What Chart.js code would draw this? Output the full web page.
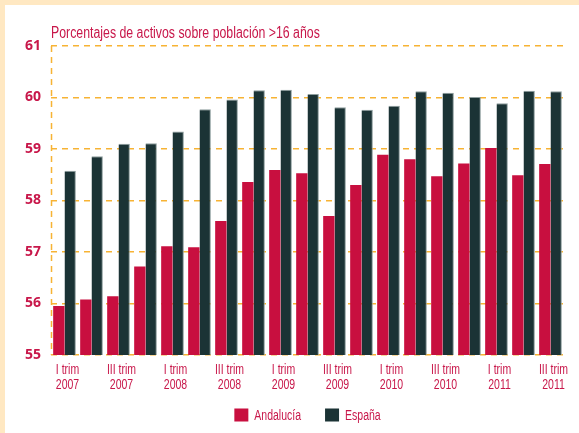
<!DOCTYPE html>
<html>
<head>
<meta charset="utf-8">
<script src="https://cdn.jsdelivr.net/npm/chart.js@4"></script>
<style>
  html, body { margin: 0; padding: 0; background: #FFE8C2; }
  #wrap { position: absolute; left: 5px; top: 5px; width: 574px; height: 428px; background: #fff; }
</style>
</head>
<body>
<div id="wrap"><canvas id="myChart" width="574" height="428"></canvas></div>
<script>
const trimestres = ['I trim', 'II trim', 'III trim', 'IV trim'];
const years = ['2007', '2008', '2009', '2010', '2011'];
const andalucia = [55.95, 56.08, 56.14, 56.72, 57.11, 57.09, 57.60, 58.36, 58.59, 58.53,
                   57.70, 58.30, 58.89, 58.80, 58.47, 58.72, 59.02, 58.49, 58.71];
const espana = [58.58, 58.86, 59.10, 59.11, 59.34, 59.77, 59.96, 60.14, 60.15, 60.07,
                59.81, 59.76, 59.84, 60.12, 60.09, 60.01, 59.89, 60.13, 60.12];
const yTicks = [55, 56, 57, 58, 59, 60, 61];
const titulo = 'Porcentajes de activos sobre población >16 años';

const labels = [];
years.forEach(y => trimestres.forEach(t => {
    if (labels.length < andalucia.length) labels.push([t, y]);
}));

const crimson = '#C8174A';
const gridColor = '#F7B334';
const sans = '"Liberation Sans", Arial, sans-serif';
const squeeze = 0.75;   // the original uses a condensed face

// text drawn narrower than the installed fonts
function narrowText(c, text, x, y, align, k) {
    c.save();
    c.translate(x, y);
    c.scale(k || squeeze, 1);
    c.textAlign = align;
    c.fillText(text, 0, 0);
    c.restore();
}

const decor = {
    id: 'decor',
    beforeDatasetsDraw(chart) {
        const c = chart.ctx, a = chart.chartArea;
        c.save();
        c.strokeStyle = gridColor;
        c.lineWidth = 1.5;
        c.setLineDash([6, 5]);
        c.beginPath();
        c.moveTo(a.left + 0.5, a.top);
        c.lineTo(a.left + 0.5, a.bottom);
        c.stroke();
        c.restore();
    },
    afterDraw(chart) {
        const c = chart.ctx, a = chart.chartArea;
        const xs = chart.scales.x;
        c.save();
        c.fillStyle = crimson;
        c.textBaseline = 'alphabetic';

        // title
        c.font = '16px ' + sans;
        narrowText(c, titulo, a.left, a.top - 8, 'left', 0.77);

        // category labels, every other quarter
        c.font = '14px ' + sans;
        labels.forEach((lab, i) => {
            if (i % 2) return;
            const x = xs.getPixelForValue(i) + 3;
            narrowText(c, lab[0], x, a.bottom + 19, 'center');
            narrowText(c, lab[1], x, a.bottom + 34, 'center');
        });

        // legend
        const ds = chart.data.datasets;
        c.font = '14px ' + sans;
        const box = 14, gap = 6, space = 24;
        const widths = ds.map(d => c.measureText(d.label).width * squeeze);
        let total = 0;
        widths.forEach((w, i) => { total += box + gap + w + (i ? space : 0); });
        let x = (a.left + a.right) / 2 - total / 2;
        const yc = 410;
        ds.forEach((d, i) => {
            c.fillStyle = d.backgroundColor;
            c.fillRect(x, yc - 6.5, box, 13);
            c.fillStyle = crimson;
            narrowText(c, d.label, x + box + gap, yc + 5, 'left');
            x += box + gap + widths[i] + space;
        });
        c.restore();
    }
};

const ctx = document.getElementById('myChart');

new Chart(ctx, {
    type: 'bar',
    data: {
        labels: labels,
        datasets: [{
            label: 'Andalucía',
            data: andalucia,
            backgroundColor: '#C80F3F',
            borderWidth: 0
        }, {
            label: 'España',
            data: espana,
            backgroundColor: '#1B3335',
            borderColor: '#8E9E9E',
            borderWidth: { top: 1, right: 1, left: 0, bottom: 0 }
        }]
    },
    options: {
        responsive: false,
        animation: false,
        devicePixelRatio: 1,
        barPercentage: 1,
        categoryPercentage: 0.84,
        layout: { padding: { left: 10, right: 15, top: 41, bottom: 0 } },
        scales: {
            x: {
                grid: { display: false },
                border: { display: false },
                ticks: { display: false },
                afterFit: s => { s.height = 78; }
            },
            y: {
                min: yTicks[0],
                max: yTicks[yTicks.length - 1],
                afterBuildTicks: axis => { axis.ticks = yTicks.map(v => ({ value: v })); },
                grid: { color: gridColor, lineWidth: 1.5, drawTicks: false },
                border: { display: false, dash: [6, 5] },
                ticks: {
                    padding: 10,
                    color: crimson,
                    font: { family: '"Open Sans", sans-serif', size: 14, weight: 'bold' }
                }
            }
        },
        plugins: {
            legend: { display: false },
            tooltip: { enabled: false }
        }
    },
    plugins: [decor]
});
</script>
</body>
</html>
